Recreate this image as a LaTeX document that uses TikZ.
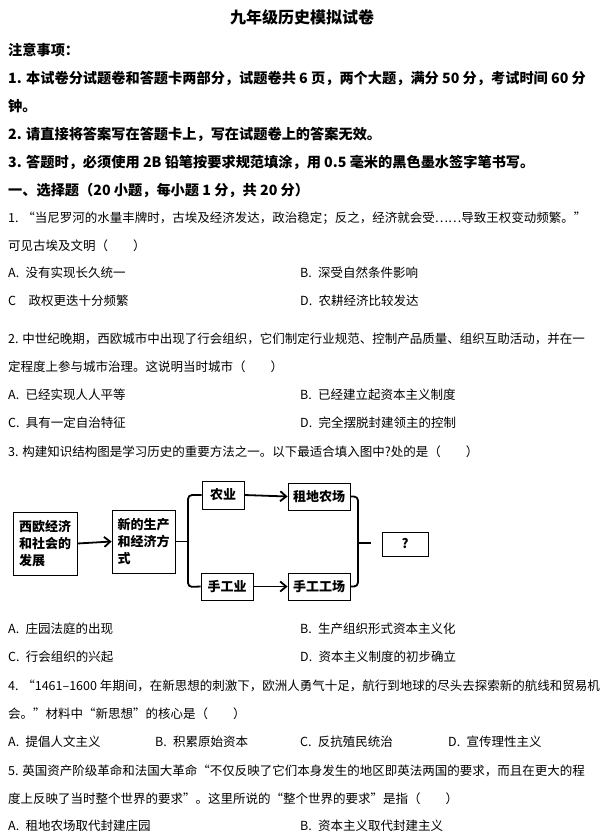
\documentclass[tikz,border=0pt]{standalone}
\usepackage{fontspec}
\setmainfont{Noto Sans CJK SC}
\usetikzlibrary{arrows.meta}
\tikzset{
 t/.style={anchor=west,inner sep=0pt,font=\fontsize{12.5}{14}\selectfont},
 h/.style={anchor=west,inner sep=0pt,font=\fontsize{14.2}{16}\selectfont\bfseries},
 bx/.style={draw,line width=0.8pt,inner sep=0pt,font=\fontsize{13}{17}\selectfont\bfseries},
 ln/.style={line width=1.8pt},
 ar/.style={ln,-{Straight Barb[length=6pt,width=10pt]}}
}
\begin{document}
\begin{tikzpicture}[x=1pt,y=-1pt]
\fill[white] (0,0) rectangle (604,837);
\useasboundingbox (0,0) rectangle (604,837);
\node[inner sep=0pt,font=\fontsize{16}{18}\selectfont\bfseries] (title) at (302,17) {九年级历史模拟试卷};
\node[h] (n0) at (8,50) {注意事项：};
\node[h] (n1) at (8,78) {1. 本试卷分试题卷和答题卡两部分，试题卷共 6 页，两个大题，满分 50 分，考试时间 60 分};
\node[h] (n1b) at (8,106) {钟。};
\node[h] (n2) at (8,134) {2. 请直接将答案写在答题卡上，写在试题卷上的答案无效。};
\node[h] (n3) at (8,162) {3. 答题时，必须使用 2B 铅笔按要求规范填涂，用 0.5 毫米的黑色墨水签字笔书写。};
\node[h] (s1) at (8,190) {一、选择题（20 小题，每小题 1 分，共 20 分）};
\node[t] (q1) at (8,218) {1. “当尼罗河的水量丰牌时，古埃及经济发达，政治稳定；反之，经济就会受……导致王权变动频繁。”};
\node[t] (q1b) at (8,246) {可见古埃及文明（　　）};
\node[t] (q1a) at (8,273) {A.\enspace 没有实现长久统一};
\node[t] (q1bb) at (300,273) {B.\enspace 深受自然条件影响};
\node[t] (q1c) at (8,301) {C\enspace\enspace 政权更迭十分频繁};
\node[t] (q1d) at (300,301) {D.\enspace 农耕经济比较发达};
\node[t] (q2) at (8,339) {2. 中世纪晚期，西欧城市中出现了行会组织，它们制定行业规范、控制产品质量、组织互助活动，并在一};
\node[t] (q2b) at (8,367) {定程度上参与城市治理。这说明当时城市（　　）};
\node[t] (q2a) at (8,395) {A.\enspace 已经实现人人平等};
\node[t] (q2bb) at (300,395) {B.\enspace 已经建立起资本主义制度};
\node[t] (q2c) at (8,423) {C.\enspace 具有一定自治特征};
\node[t] (q2d) at (300,423) {D.\enspace 完全摆脱封建领主的控制};
\node[t] (q3) at (8,452) {3. 构建知识结构图是学习历史的重要方法之一。以下最适合填入图中?处的是（　　）};
% diagram
\node[bx,minimum width=64pt,minimum height=63pt,align=left] (b1) at (45,543.5) {西欧经济\\和社会的\\发展};
\node[bx,minimum width=63pt,minimum height=63pt,align=left] (b2) at (143.5,541.5) {新的生产\\和经济方\\式};
\node[bx,minimum width=42pt,minimum height=28pt] (b3) at (223,495) {农业};
\node[bx,minimum width=52pt,minimum height=27pt] (b4) at (227,586.5) {手工业};
\node[bx,minimum width=62pt,minimum height=27pt] (b5) at (319,496.5) {租地农场};
\node[bx,minimum width=62pt,minimum height=27pt] (b6) at (319,586.5) {手工工场};
\node[bx,minimum width=46pt,minimum height=24pt] (b7) at (405,544) {?};
\draw[ar] (b1.east) -- (b2.west);
\draw[ar] (b3.east) -- (b5.west);
\draw[ar] (b4.east) -- (b6.west);
\coordinate (lt) at (188,495);
\coordinate (lb) at (188,587);
\draw[ln,rounded corners=4pt] (b3.west) -- (lt) -- (188,541.5) -- (lb) -- (b4.west);
\draw[ln] (b2.east) -- (188,541.5);
\draw[ln,rounded corners=4pt] (b5.east) -- (358,496.5) -- (358,586.5) -- (b6.east);
\coordinate (rt) at (371,543);
\draw[ln] (358,543) -- (rt);
\node[t] (q3a) at (8,629) {A.\enspace 庄园法庭的出现};
\node[t] (q3b) at (300,629) {B.\enspace 生产组织形式资本主义化};
\node[t] (q3c) at (8,657) {C.\enspace 行会组织的兴起};
\node[t] (q3d) at (300,657) {D.\enspace 资本主义制度的初步确立};
\node[t] (q4) at (8,686) {4. “1461–1600 年期间，在新思想的刺激下，欧洲人勇气十足，航行到地球的尽头去探索新的航线和贸易机};
\node[t] (q4b) at (8,714) {会。”材料中“新思想”的核心是（　　）};
\node[t] (q4a) at (8,742) {A.\enspace 提倡人文主义};
\node[t] (q4bb) at (155,742) {B.\enspace 积累原始资本};
\node[t] (q4c) at (300,742) {C.\enspace 反抗殖民统治};
\node[t] (q4d) at (448,742) {D.\enspace 宣传理性主义};
\node[t] (q5) at (8,771) {5. 英国资产阶级革命和法国大革命“不仅反映了它们本身发生的地区即英法两国的要求，而且在更大的程};
\node[t] (q5b) at (8,799) {度上反映了当时整个世界的要求”。这里所说的“整个世界的要求”是指（　　）};
\node[t] (q5a) at (8,826) {A.\enspace 租地农场取代封建庄园};
\node[t] (q5bb) at (300,826) {B.\enspace 资本主义取代封建主义};
\end{tikzpicture}
\end{document}
